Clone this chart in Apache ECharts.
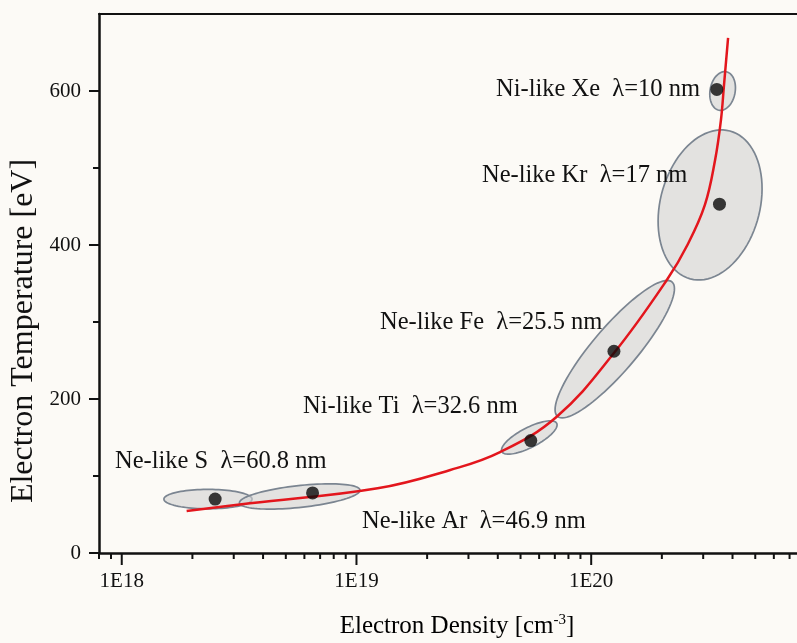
<!DOCTYPE html>
<html>
<head>
<meta charset="utf-8">
<script src="https://cdn.jsdelivr.net/npm/echarts@6/dist/echarts.min.js"></script>
<style>
  html, body { margin: 0; padding: 0; background: #fcfaf6; }
  #chart { width: 797px; height: 643px; }
</style>
</head>
<body>
<div id="chart"></div>
<script>
// measured points (electron density, electron temperature)
var pointDensity = [2.5e18, 6.5e18, 5.53e19, 1.25e20, 3.52e20, 3.43e20];
var pointTemp = [70, 78, 146, 262, 453, 602];

// red fit curve
var curveDensity = [1.89e18, 3.52e18, 1.23e19, 2.51e19, 4.09e19, 7.13e19, 1.25e20,
  2.10e20, 2.58e20, 3.05e20, 3.37e20, 3.57e20, 3.68e20, 3.83e20];
var curveTemp = [54.5, 64.5, 84, 107.8, 131, 177, 259.7, 354.5, 401, 452, 510, 562, 608, 669];

// uncertainty ellipses: centre, end of long axis, short/long ratio
var ellCenterDensity = [2.33e18, 5.73e18, 5.45e19, 1.26e20, 3.21e20, 3.63e20];
var ellCenterTemp = [70, 73.4, 150, 264.7, 452, 600];
var ellTipDensity = [3.59e18, 1.035e19, 7.13e19, 2.21e20, 3.9e20, 3.76e20];
var ellTipTemp = [70, 81.8, 168.4, 352, 548, 625];
var ellRatio = [0.22, 0.18, 0.32, 0.25, 0.65, 0.64];

// axis ticks
var xMajorTicks = [1e18, 1e19, 1e20];
var xMinorTicks = [8e17, 9e17, 2e18, 3e18, 4e18, 5e18, 6e18, 7e18, 8e18, 9e18,
  2e19, 3e19, 4e19, 5e19, 6e19, 7e19, 8e19, 9e19, 2e20, 3e20, 4e20, 5e20, 6e20, 7e20];
var yMinorTicks = [100, 300, 500];

var labels = [
  'Ne-like S  λ=60.8 nm',
  'Ne-like Ar  λ=46.9 nm',
  'Ni-like Ti  λ=32.6 nm',
  'Ne-like Fe  λ=25.5 nm',
  'Ne-like Kr  λ=17 nm',
  'Ni-like Xe  λ=10 nm'
];
var labelPos = [[115, 462], [362, 522], [303, 407], [380, 323], [482, 176], [496, 90]];

var serif = "'Liberation Serif', 'Times New Roman', serif";
var textColor = '#111';
var xMin = 8e17, xMax = 7.53e20;

var chart = echarts.init(document.getElementById('chart'));

var ellData = ellCenterDensity.map(function (d, i) {
  return [d, ellCenterTemp[i], ellTipDensity[i], ellTipTemp[i], ellRatio[i]];
});

var graphics = labels.map(function (t, i) {
  return {
    type: 'text', x: labelPos[i][0], y: labelPos[i][1], z: 10,
    style: { text: t, font: '24.5px ' + serif, fill: textColor, verticalAlign: 'middle' }
  };
});
graphics.push({
  type: 'text', x: 24, y: 331, rotation: Math.PI / 2,
  style: { text: 'Electron Temperature [eV]', font: '32px ' + serif, fill: textColor,
    align: 'center', verticalAlign: 'middle' }
});
graphics.push({
  type: 'text', x: 457, y: 626,
  style: {
    text: '{a|Electron Density [cm}{s|-3}{a|]}',
    align: 'center', verticalAlign: 'middle',
    rich: {
      a: { fontSize: 25, fontFamily: serif, color: textColor },
      s: { fontSize: 15, fontFamily: serif, color: textColor, verticalAlign: 'top', padding: [0, 0, 12, 0] }
    }
  }
});

function tickSeries(name, data, draw) {
  return {
    type: 'custom', name: name, clip: false, silent: true, z: 5,
    data: data,
    renderItem: function (params, api) {
      var s = draw(api);
      return { type: 'line', shape: s, style: { stroke: '#111', lineWidth: 2 } };
    }
  };
}

var option = {
  backgroundColor: '#fcfaf6',
  animation: false,
  grid: { left: 99, top: 14, right: 0, bottom: 90 },
  graphic: graphics,
  xAxis: [{
    type: 'log', logBase: 10, min: xMin, max: xMax,
    axisLine: { lineStyle: { color: '#111', width: 2.5 } },
    axisTick: { show: false },
    axisLabel: {
      color: textColor, fontFamily: serif, fontSize: 21, margin: 18,
      showMinLabel: false, showMaxLabel: false,
      formatter: function (v) { return '1E' + Math.round(Math.log10(v)); }
    },
    splitLine: { show: false }
  }, {
    type: 'log', logBase: 10, min: xMin, max: xMax, position: 'top',
    axisLine: { lineStyle: { color: '#111', width: 2 } },
    axisTick: { show: false }, axisLabel: { show: false }, splitLine: { show: false }
  }],
  yAxis: {
    type: 'value', min: 0, max: 700, interval: 200,
    axisLine: { show: true, lineStyle: { color: '#111', width: 2.5 } },
    axisTick: { show: true, length: 10, lineStyle: { color: '#111', width: 2 } },
    axisLabel: { color: textColor, fontFamily: serif, fontSize: 21, margin: 18, showMaxLabel: false },
    splitLine: { show: false }
  },
  series: [{
    type: 'custom',
    name: 'ellipses',
    clip: false,
    z: 1,
    encode: { x: [0, 2], y: [1, 3] },
    data: ellData,
    renderItem: function (params, api) {
      var c = api.coord([api.value(0), api.value(1)]);
      var t = api.coord([api.value(2), api.value(3)]);
      var a = Math.hypot(t[0] - c[0], t[1] - c[1]);
      var b = a * api.value(4);
      var ang = Math.atan2(t[1] - c[1], t[0] - c[0]);
      var pts = [];
      for (var k = 0; k < 90; k++) {
        var th = k / 90 * Math.PI * 2;
        var ex = a * Math.cos(th), ey = b * Math.sin(th);
        pts.push([c[0] + ex * Math.cos(ang) - ey * Math.sin(ang),
                  c[1] + ex * Math.sin(ang) + ey * Math.cos(ang)]);
      }
      return {
        type: 'polygon', shape: { points: pts },
        style: { fill: 'rgba(210,210,210,0.6)', stroke: '#7b8591', lineWidth: 1.7 }
      };
    }
  },
  tickSeries('xMajor', xMajorTicks.map(function (v) { return [v, 0]; }), function (api) {
    var p = api.coord([api.value(0), 0]);
    return { x1: p[0], y1: p[1], x2: p[0], y2: p[1] + 12 };
  }),
  tickSeries('xMinor', xMinorTicks.map(function (v) { return [v, 0]; }), function (api) {
    var p = api.coord([api.value(0), 0]);
    return { x1: p[0], y1: p[1], x2: p[0], y2: p[1] + 6 };
  }),
  tickSeries('yMinor', yMinorTicks.map(function (v) { return [xMin, v]; }), function (api) {
    var p = api.coord([xMin, api.value(1)]);
    return { x1: p[0] - 6, y1: p[1], x2: p[0], y2: p[1] };
  }),
  {
    type: 'line',
    name: 'fit',
    z: 3,
    smooth: 0.4,
    showSymbol: false,
    lineStyle: { color: '#e3161d', width: 2.5 },
    data: curveDensity.map(function (d, i) { return [d, curveTemp[i]]; })
  }, {
    type: 'scatter',
    name: 'points',
    z: 4,
    symbolSize: 13,
    itemStyle: { color: '#0a0a0a' },
    data: pointDensity.map(function (d, i) { return [d, pointTemp[i]]; })
  }]
};

chart.setOption(option);
</script>
</body>
</html>
